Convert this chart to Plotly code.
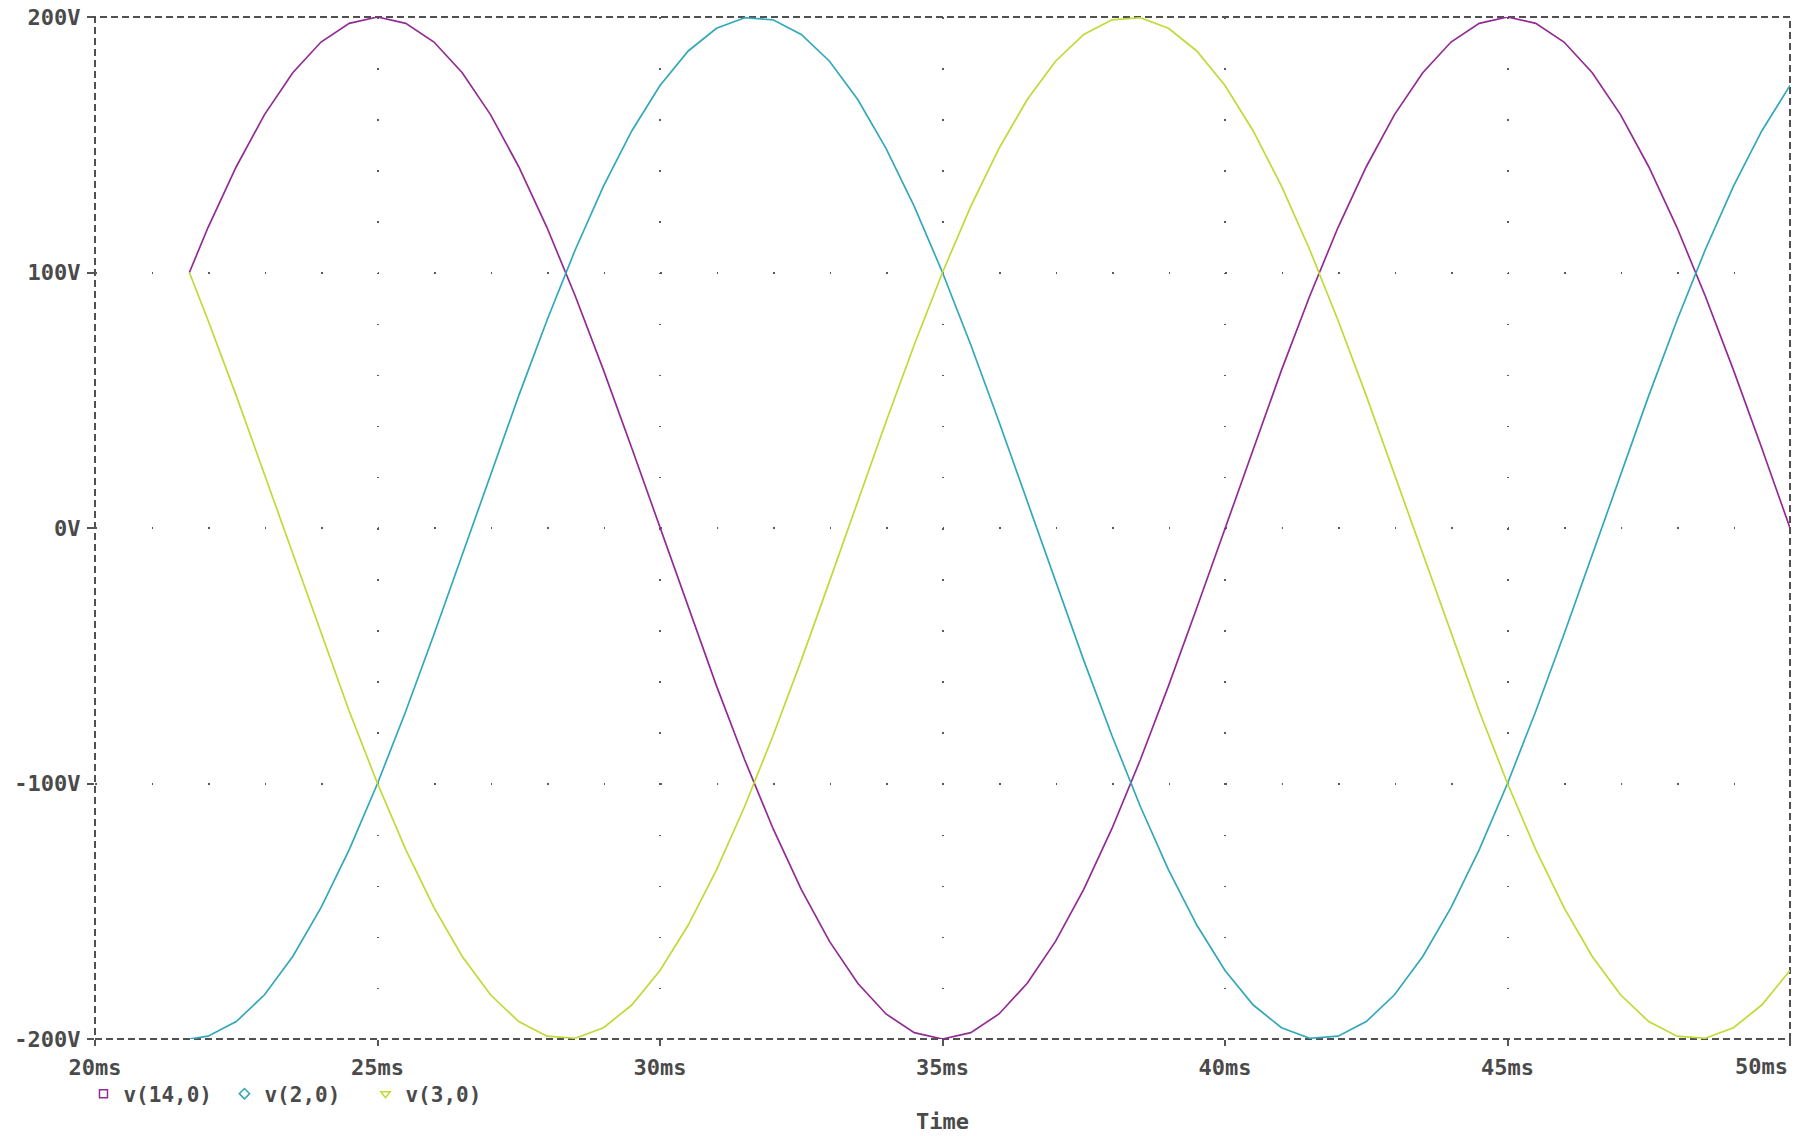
import plotly.graph_objects as go

# ---- data (time in ms, voltage in V) ----
time_ms = [21.67, 22.0, 22.5, 23.0, 23.5, 24.0, 24.5, 25.0, 25.5, 26.0, 26.5, 27.0, 27.5,
           28.0, 28.5, 29.0, 29.5, 30.0, 30.5, 31.0, 31.5, 32.0, 32.5, 33.0, 33.5, 34.0,
           34.5, 35.0, 35.5, 36.0, 36.5, 37.0, 37.5, 38.0, 38.5, 39.0, 39.5, 40.0, 40.5,
           41.0, 41.5, 42.0, 42.5, 43.0, 43.5, 44.0, 44.5, 45.0, 45.5, 46.0, 46.5, 47.0,
           47.5, 48.0, 48.5, 49.0, 49.5, 50.0]

v14_0 = [100, 117.6, 141.4, 161.8, 178.2, 190.2, 197.5, 200, 197.5, 190.2, 178.2, 161.8, 141.4,
         117.6, 90.8, 61.8, 31.3, 0, -31.3, -61.8, -90.8, -117.6, -141.4, -161.8, -178.2, -190.2,
         -197.5, -200, -197.5, -190.2, -178.2, -161.8, -141.4, -117.6, -90.8, -61.8, -31.3, 0, 31.3,
         61.8, 90.8, 117.6, 141.4, 161.8, 178.2, 190.2, 197.5, 200, 197.5, 190.2, 178.2, 161.8,
         141.4, 117.6, 90.8, 61.8, 31.3, 0]

v2_0 = [-200, -198.9, -193.2, -182.7, -167.7, -148.6, -125.9, -100, -71.7, -41.6, -10.5, 20.9, 51.8,
        81.3, 108.9, 133.8, 155.4, 173.2, 186.7, 195.6, 199.7, 198.9, 193.2, 182.7, 167.7, 148.6,
        125.9, 100, 71.7, 41.6, 10.5, -20.9, -51.8, -81.3, -108.9, -133.8, -155.4, -173.2, -186.7,
        -195.6, -199.7, -198.9, -193.2, -182.7, -167.7, -148.6, -125.9, -100, -71.7, -41.6, -10.5, 20.9,
        51.8, 81.3, 108.9, 133.8, 155.4, 173.2]

v3_0 = [100, 81.3, 51.8, 20.9, -10.5, -41.6, -71.7, -100, -125.9, -148.6, -167.7, -182.7, -193.2,
        -198.9, -199.7, -195.6, -186.7, -173.2, -155.4, -133.8, -108.9, -81.3, -51.8, -20.9, 10.5, 41.6,
        71.7, 100, 125.9, 148.6, 167.7, 182.7, 193.2, 198.9, 199.7, 195.6, 186.7, 173.2, 155.4,
        133.8, 108.9, 81.3, 51.8, 20.9, -10.5, -41.6, -71.7, -100, -125.9, -148.6, -167.7, -182.7,
        -193.2, -198.9, -199.7, -195.6, -186.7, -173.2]

series_names = ["V(14,0)", "V(2,0)", "V(3,0)"]
legend_labels = ["v(14,0)", "v(2,0)", "v(3,0)"]

x_tickvals = [20, 25, 30, 35, 40, 45, 50]
x_ticktext = ["20ms", "25ms", "30ms", "35ms", "40ms", "45ms", ""]
x_last_label = "50ms"   # drawn right-aligned at the plot edge, as in the reference
y_tickvals = [-200, -100, 0, 100, 200]
y_ticktext = ["-200V", "-100V", "0V", "100V", "200V"]
x_title = "Time"

# ---- style ----
W, H = 1802, 1136
ML, MR, MT, MB = 95, 12, 17, 97
PW, PH = W - ML - MR, H - MT - MB
colors = ["#922c94", "#33a8ba", "#c0da36"]
symbols = ["square-open", "diamond-open", "triangle-down-open"]
FONT = "DejaVu Sans Mono"
TXT = "#4a4a4a"
GRID = "#5a5a5a"
FS = 22

fig = go.Figure()
for ys, c, n in zip([v14_0, v2_0, v3_0], colors, series_names):
    fig.add_trace(go.Scatter(x=time_ms, y=ys, mode="lines", name=n,
                             line=dict(color=c, width=1.7), showlegend=False))
# legend-only entries with marker symbols
for lab, c, s in zip(legend_labels, colors, symbols):
    fig.add_trace(go.Scatter(x=[None], y=[None], mode="markers", name=lab,
                             marker=dict(symbol=s, color=c, size=8, line=dict(color=c, width=1.5))))

# dot spacings along grid lines
xdot = PW / 30.0   # one dot per ms along horizontal grid lines
ydot = PH / 20.0   # one dot per 20 V along vertical grid lines

tickfont = dict(family=FONT, size=FS, color=TXT, weight="bold")

fig.update_xaxes(range=[20, 50], tickvals=x_tickvals, ticktext=x_ticktext,
                 showline=False, zeroline=False, automargin=False,
                 ticks="outside", ticklen=6, tickwidth=1.5, tickcolor="#555555",
                 showgrid=True, gridcolor=GRID, gridwidth=1.5,
                 griddash=f"1.5px,{ydot-1.5:.2f}px",
                 tickfont=tickfont, ticklabelstandoff=3)
fig.update_yaxes(range=[-200, 200], tickvals=y_tickvals, ticktext=y_ticktext,
                 showline=False, zeroline=False, automargin=False,
                 ticks="outside", ticklen=7, tickwidth=1.5, tickcolor="#555555",
                 showgrid=True, gridcolor=GRID, gridwidth=1.5,
                 griddash=f"1.5px,{xdot-1.5:.2f}px",
                 tickfont=tickfont, ticklabelstandoff=2)

# dashed plot border
fig.add_shape(type="rect", xref="paper", yref="paper", x0=0, y0=0, x1=1, y1=1,
              line=dict(color="#505050", width=2, dash="7px,4px"), layer="between")

fig.add_annotation(text=x_last_label, xref="paper", yref="paper", x=1.0, y=-27 / PH,
                   xanchor="right", yanchor="middle", showarrow=False, font=tickfont)
fig.add_annotation(text=x_title, xref="paper", yref="paper", x=0.5, y=-82 / PH,
                   xanchor="center", yanchor="middle", showarrow=False, font=tickfont)

fig.update_layout(
    width=W, height=H,
    margin=dict(l=ML, r=MR, t=MT, b=MB, autoexpand=False),
    plot_bgcolor="white", paper_bgcolor="white",
    legend=dict(orientation="h", x=-0.0068, xanchor="left", y=-55 / PH, yanchor="middle",
                font=dict(family=FONT, size=21, color=TXT, weight="bold"),
                bgcolor="rgba(0,0,0,0)", itemwidth=30, tracegroupgap=0,
                entrywidth=96, entrywidthmode="pixels"),
)

fig.write_html("out.html",
               config={"displayModeBar": False},
               post_script="document.body.style.margin='0';document.body.style.overflow='hidden';")
